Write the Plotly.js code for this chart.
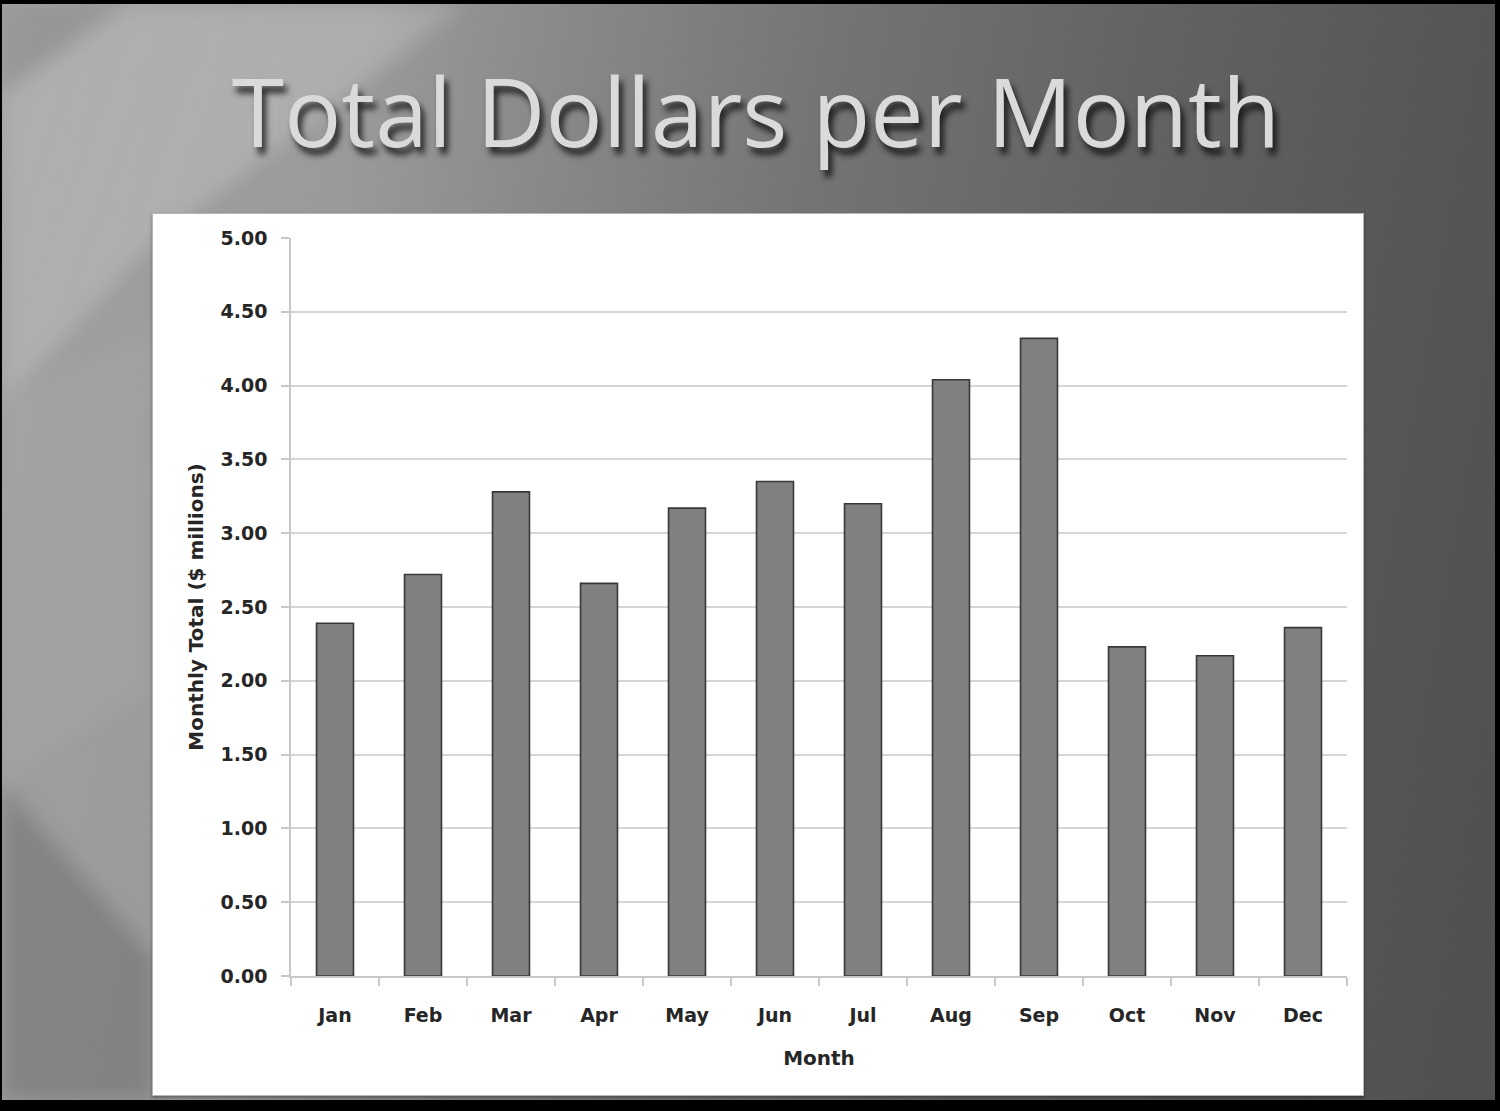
<!DOCTYPE html>
<html>
<head>
<meta charset="utf-8">
<script src="https://cdn.plot.ly/plotly-3.0.1.min.js"></script>
<style>
  html, body { margin: 0; padding: 0; width: 1500px; height: 1111px; overflow: hidden; background: #000; }
  #slide {
    position: absolute; left: 2px; top: 4px; width: 1493px; height: 1096px; overflow: hidden;
    background: linear-gradient(100deg, #a0a0a0 0%, #9a9a9a 22%, #878787 35%, #747474 50%, #636363 68%, #575757 85%, #4f4f4f 100%);
  }
  .blur { position: absolute; left: 0; top: 0; width: 1493px; height: 1096px; filter: blur(10px); }
  .streak { position: absolute; left: 0; top: 0; width: 1493px; height: 1096px; }
  #s1 { clip-path: polygon(125px 0, 465px 0, 150px 240px, 0 400px, 0 90px); background: linear-gradient(110deg, rgba(255,255,255,0.16), rgba(255,255,255,0.20) 20%, rgba(255,255,255,0.06) 35%); }
  #s2 { clip-path: polygon(0 0, 125px 0, 0 90px); background: rgba(0,0,0,0.05); }
  #s3 { clip-path: polygon(0 780px, 152px 955px, 152px 1096px, 0 1096px); background: rgba(0,0,0,0.16); }
  #s4 { clip-path: polygon(0 400px, 152px 320px, 152px 690px, 0 780px); background: rgba(255,255,255,0.05); }
  #card {
    position: absolute; left: 152px; top: 213px; width: 1210px; height: 881px;
    background: #ffffff; border: 1px solid #b5b5b5; box-shadow: 0 2px 3px rgba(0,0,0,0.35);
  }
  #chart { position: absolute; left: 0; top: 0; width: 1500px; height: 1111px; }
</style>
</head>
<body>
<div id="slide">
  <div class="blur">
    <div class="streak" id="s1"></div>
    <div class="streak" id="s2"></div>
    <div class="streak" id="s3"></div>
    <div class="streak" id="s4"></div>
  </div>
</div>
<div id="card"></div>
<div id="chart"></div>
<script>
const months = ["Jan","Feb","Mar","Apr","May","Jun","Jul","Aug","Sep","Oct","Nov","Dec"];
const totals = [2.39, 2.72, 3.28, 2.66, 3.17, 3.35, 3.20, 4.04, 4.32, 2.23, 2.17, 2.36];
const yTicks = [0, 0.5, 1, 1.5, 2, 2.5, 3, 3.5, 4, 4.5, 5];

const labelFamily = "'DejaVu Sans', Verdana, sans-serif";
const tickFont = {family: labelFamily, size: 19, color: "#262626", weight: 700};
const axisTitleFont = {family: labelFamily, size: 20, color: "#262626", weight: 700};

const data = [{
  type: "bar",
  x: months,
  y: totals,
  marker: {color: "#808080", line: {color: "#383838", width: 1.6}},
  hoverinfo: "x+y"
}];

const layout = {
  width: 1500, height: 1111,
  paper_bgcolor: "rgba(0,0,0,0)",
  plot_bgcolor: "rgba(0,0,0,0)",
  margin: {l: 291, r: 153, t: 238, b: 135, pad: 0},
  showlegend: false,
  bargap: 0.58,
  title: {
    text: "Total Dollars per Month",
    x: 0.504, xanchor: "center", xref: "container",
    y: 0.898, yanchor: "middle", yref: "container",
    font: {family: "'Open Sans', Lato, sans-serif", size: 95, color: "#dadada",
           shadow: "4px 7px 6px rgba(0,0,0,0.75)"}
  },
  xaxis: {
    type: "category",
    showline: true, linecolor: "#c8c8c8", linewidth: 1.5,
    ticks: "outside", ticklen: 8, tickcolor: "#c8c8c8", tickwidth: 1.5,
    tickson: "boundaries",
    showgrid: false,
    tickfont: tickFont,
    ticklabelstandoff: 21,
    title: {text: "Month", font: axisTitleFont, standoff: 26}
  },
  yaxis: {
    range: [0, 5],
    tickvals: yTicks,
    tickformat: ".2f",
    showline: true, linecolor: "#c8c8c8", linewidth: 1.5,
    ticks: "outside", ticklen: 8, tickcolor: "#c8c8c8", tickwidth: 1.5,
    showgrid: true, gridcolor: "#d6d6d6", gridwidth: 1.5,
    zeroline: false,
    tickfont: tickFont,
    ticklabelstandoff: 10,
    title: {text: "Monthly Total ($ millions)", font: axisTitleFont, standoff: 12}
  }
};

Plotly.newPlot("chart", data, layout, {displayModeBar: false});
</script>
</body>
</html>
